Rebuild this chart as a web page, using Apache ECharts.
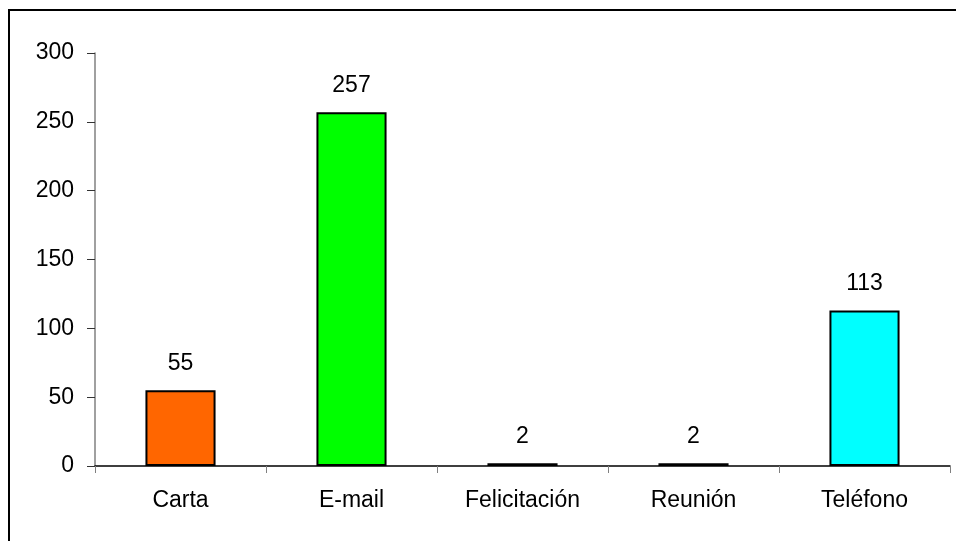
<!DOCTYPE html>
<html>
<head>
<meta charset="utf-8">
<script src="https://cdn.jsdelivr.net/npm/echarts@6/dist/echarts.min.js"></script>
<style>
  html, body { margin: 0; padding: 0; background: #fff; }
  #frame {
    position: absolute; left: 8px; top: 9px; width: 960px; height: 545px;
    border-left: 2px solid #000; border-top: 2px solid #000;
  }
  #chart { position: absolute; left: 0; top: 0; width: 956px; height: 541px; }
</style>
</head>
<body>
<div id="frame"></div>
<div id="chart"></div>
<script>
// datos
const categories = ['Carta', 'E-mail', 'Felicitación', 'Reunión', 'Teléfono']
const values = [55, 257, 2, 2, 113]
const barColors = ['#FF6600', '#00FF00', '#000000', '#000000', '#00FFFF']

const font = 'Liberation Sans, Arial'

const chart = echarts.init(document.getElementById('chart'))
chart.setOption({
  animation: false,
  grid: { left: 95, right: 6, top: 53, bottom: 75 },
  xAxis: {
    type: 'category',
    data: categories,
    axisLine: { lineStyle: { color: '#000', width: 1.5 } },
    axisTick: { show: true, length: 7, lineStyle: { color: '#808080' } },
    axisLabel: { color: '#000', fontSize: 23, fontFamily: font, margin: 23 }
  },
  yAxis: {
    type: 'value',
    min: 0,
    max: 300,
    interval: 50,
    splitLine: { show: false },
    axisLine: { show: true, lineStyle: { color: '#808080', width: 1.5 } },
    axisTick: { show: true, length: 8, lineStyle: { color: '#333' } },
    axisLabel: { color: '#000', fontSize: 23, fontFamily: font, margin: 21 }
  },
  series: [{
    type: 'bar',
    data: values.map((v, i) => ({ value: v, itemStyle: { color: barColors[i] } })),
    barWidth: '41%',
    itemStyle: { borderColor: '#000', borderWidth: 2 },
    label: {
      show: true,
      position: 'top',
      distance: 15,
      color: '#000',
      fontSize: 23,
      fontFamily: font
    }
  }]
})
</script>
</body>
</html>
